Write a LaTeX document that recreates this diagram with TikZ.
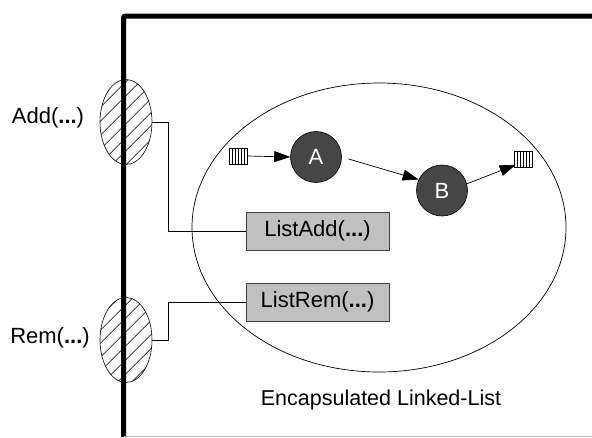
\documentclass[tikz,border=0pt]{standalone}
\usepackage{fontspec}
\setmainfont{Liberation Sans}
\usetikzlibrary{arrows.meta,shapes.geometric,patterns.meta}
\definecolor{nodegray}{HTML}{464646}
\definecolor{boxgray}{HTML}{C0C0C0}
\definecolor{boxedge}{HTML}{404040}
\tikzset{
  port/.style={ellipse,draw,line width=0.6pt,minimum width=52pt,minimum height=85pt,inner sep=0pt,
    pattern={Lines[angle=45,distance=10.5pt,line width=0.75pt]}},
  listnode/.style={circle,draw=black,line width=0.6pt,fill=nodegray,text=white,minimum size=51pt,inner sep=0pt,font=\fontsize{22}{26}\selectfont},
  fnbox/.style={rectangle,draw=boxedge,line width=0.8pt,fill=boxgray,minimum width=143pt,minimum height=38pt,inner sep=0pt,font=\fontsize{22}{26}\selectfont},
  endbox/.style={rectangle,draw,line width=0.6pt,fill=white,minimum width=18pt,minimum height=16pt,inner sep=0pt,
    path picture={\foreach \k in {1,...,5}{\draw[line width=0.5pt] ([xshift=\k*3pt]path picture bounding box.south west) -- ([xshift=\k*3pt]path picture bounding box.north west);}}},
  lbl/.style={font=\fontsize{22}{26}\selectfont,inner sep=0pt},
  wire/.style={line width=0.6pt},
  arr/.style={line width=0.7pt,-{Triangle[length=16pt,width=11pt]}}
}
\begin{document}
\begin{tikzpicture}[x=1pt,y=-1pt]
\useasboundingbox (0,0) rectangle (592,437);
% encapsulating ellipse
\node[ellipse,draw,line width=0.7pt,minimum width=374pt,minimum height=289pt,inner sep=0pt] (encl) at (379,227.5) {};
\node[lbl,font=\fontsize{21.5}{26}\selectfont] (encllbl) at (381,400) {Encapsulated Linked-List};
% list nodes
\node[listnode] (A) at (316,157) {A};
\node[listnode] (B) at (442,190.5) {B};
\node[endbox] (head) at (238,156) {};
\node[endbox] (tail) at (523,159.5) {};
\draw[arr] (head.east) -- (A.west);
\draw[arr,shorten <=7pt] (A.east) -- (B.155);
\draw[arr] (B.15) -- ([xshift=2pt,yshift=3pt]tail.south west);
% function boxes
\node[fnbox] (listadd) at (317.5,231) {ListAdd(\textbf{...})};
\node[fnbox] (listrem) at (317.5,302) {ListRem(\textbf{...})};
% ports
\node[port] (addport) at (126,122) {};
\node[port] (remport) at (126,340) {};
\node[lbl] (addlbl) at (48,118) {Add(\textbf{...})};
\node[lbl] (remlbl) at (50,338) {Rem(\textbf{...})};
\draw[wire] (addport.east) -- ++(16,0) |- (listadd.west);
\draw[wire] (remport.east) -- ++(16,0) |- (listrem.west);
% frame
\draw[line width=5pt,rounded corners=2pt] (123.5,437) -- (123.5,16) -- (592,16);
\draw[line width=0.6pt,gray!50] (124,436.7) -- (592,436.7);
\end{tikzpicture}
\end{document}
